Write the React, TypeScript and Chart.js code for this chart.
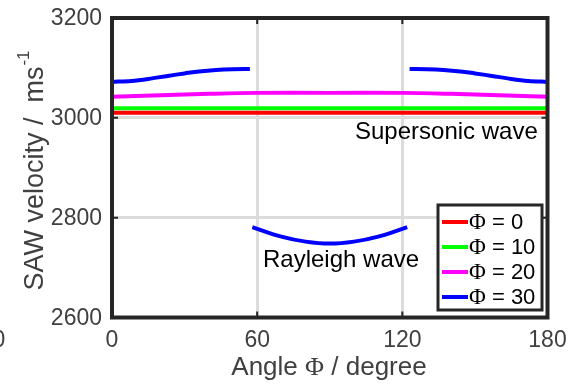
import React, { useEffect, useRef } from "react";
import { Chart, registerables } from "chart.js";

Chart.register(...registerables);

// Axis ticks
const angleTicks = [0, 60, 120, 180];
const velocityTicks = [2600, 2800, 3000, 3200];

// Φ = 0 : flat supersonic branch
const phi0Angle = [0, 45, 90, 135, 180];
const phi0Velocity = [3010, 3010, 3010, 3010, 3010];

// Φ = 10
const phi10Angle = [0, 45, 90, 135, 180];
const phi10Velocity = [3019, 3019, 3019, 3019, 3019];

// Φ = 20
const phi20Angle = [0, 20, 40, 60, 90, 120, 140, 160, 180];
const phi20Velocity = [3042, 3045, 3048, 3050, 3050, 3050, 3048, 3045, 3042];

// Φ = 30 : supersonic branches near 0° and 180°, Rayleigh branch in between
const phi30LeftAngle = [0, 8, 15, 23, 30, 36, 43, 50, 57];
const phi30LeftVelocity = [3072, 3074, 3078, 3084, 3089, 3093, 3096, 3097.5, 3098];
const phi30RayleighAngle = [58, 70, 80, 90, 100, 110, 122];
const phi30RayleighVelocity = [2781, 2762, 2752, 2748, 2752, 2762, 2781];
const phi30RightAngle = [123, 130, 137, 144, 150, 157, 165, 172, 180];
const phi30RightVelocity = [3098, 3097.5, 3096, 3093, 3089, 3084, 3078, 3074, 3072];

const seriesValues = ["0", "10", "20", "30"];
const seriesLabels = seriesValues.map((v) => `Φ = ${v}`);
const seriesColors = ["#ff0000", "#00ff00", "#ff00ff", "#0000ff"];

const SANS = '"Liberation Sans", Arial, Helvetica, sans-serif';
const SERIF = '"Liberation Serif", "Times New Roman", serif';
const AXIS_INK = "#404040";
const FRAME_INK = "#262626";

const toPoints = (xs: number[], ys: number[]) => xs.map((x, i) => ({ x, y: ys[i] }));

const phi30Points = [
  ...toPoints(phi30LeftAngle, phi30LeftVelocity),
  { x: 57.5, y: null },
  ...toPoints(phi30RayleighAngle, phi30RayleighVelocity),
  { x: 122.5, y: null },
  ...toPoints(phi30RightAngle, phi30RightVelocity),
];

type Run = { text: string; font: string };

// draws a sequence of text pieces with differing fonts; returns total width
function drawRuns(ctx: CanvasRenderingContext2D, runs: Run[], x: number, y: number, align: "left" | "center") {
  let total = 0;
  runs.forEach((r) => {
    ctx.font = r.font;
    total += ctx.measureText(r.text).width;
  });
  let cx = align === "center" ? x - total / 2 : x;
  ctx.textAlign = "left";
  runs.forEach((r) => {
    ctx.font = r.font;
    ctx.fillText(r.text, cx, y);
    cx += ctx.measureText(r.text).width;
  });
  return total;
}

const decorations = {
  id: "decorations",
  afterDatasetsDraw(chart: any) {
    const { ctx, chartArea: a, scales } = chart;
    const xs = scales.x;
    const ys = scales.y;
    ctx.save();

    // inward tick marks
    ctx.strokeStyle = FRAME_INK;
    ctx.lineWidth = 2;
    const tickLen = 6;
    angleTicks.slice(1, -1).forEach((v) => {
      const px = xs.getPixelForValue(v);
      ctx.beginPath();
      ctx.moveTo(px, a.top);
      ctx.lineTo(px, a.top + tickLen);
      ctx.moveTo(px, a.bottom);
      ctx.lineTo(px, a.bottom - tickLen);
      ctx.stroke();
    });
    velocityTicks.slice(1, -1).forEach((v) => {
      const py = ys.getPixelForValue(v);
      ctx.beginPath();
      ctx.moveTo(a.left, py);
      ctx.lineTo(a.left + tickLen, py);
      ctx.moveTo(a.right, py);
      ctx.lineTo(a.right - tickLen, py);
      ctx.stroke();
    });

    // box frame
    ctx.lineWidth = 4;
    ctx.strokeRect(a.left, a.top, a.right - a.left, a.bottom - a.top);

    // tick labels
    ctx.fillStyle = AXIS_INK;
    ctx.font = `23px ${SANS}`;
    ctx.textBaseline = "middle";
    ctx.textAlign = "right";
    velocityTicks.forEach((v) => {
      ctx.fillText(String(v), a.left - 10, ys.getPixelForValue(v) + 1);
    });
    ctx.textAlign = "center";
    angleTicks.forEach((v) => {
      ctx.fillText(String(v), xs.getPixelForValue(v), 341);
    });
    ctx.fillText("0", -1, 341);

    // x axis title
    ctx.textBaseline = "alphabetic";
    drawRuns(
      ctx,
      [
        { text: "Angle ", font: `26px ${SANS}` },
        { text: "Φ", font: `26px ${SERIF}` },
        { text: " / degree", font: `26px ${SANS}` },
      ],
      329,
      375,
      "center"
    );

    // y axis title with superscript unit
    const main = "SAW velocity /  ms";
    const sup = "-1";
    ctx.font = `27px ${SANS}`;
    const wMain = ctx.measureText(main).width;
    ctx.font = `17px ${SANS}`;
    const wSup = ctx.measureText(sup).width;
    const total = wMain + wSup;
    ctx.translate(43, 171);
    ctx.rotate(-Math.PI / 2);
    ctx.textAlign = "left";
    ctx.font = `27px ${SANS}`;
    ctx.fillText(main, -total / 2, 0);
    ctx.font = `17px ${SANS}`;
    ctx.fillText(sup, -total / 2 + wMain + 1, -14);
    ctx.setTransform(1, 0, 0, 1, 0, 0);

    // branch annotations
    ctx.fillStyle = "#000000";
    ctx.font = `24px ${SANS}`;
    ctx.textAlign = "left";
    ctx.fillText("Supersonic wave", 355, 139);
    ctx.fillText("Rayleigh wave", 263, 267);

    // legend
    const lx = 438, ly = 205, lw = 104, lh = 105;
    ctx.fillStyle = "#ffffff";
    ctx.fillRect(lx, ly, lw, lh);
    ctx.strokeStyle = FRAME_INK;
    ctx.lineWidth = 3;
    ctx.strokeRect(lx, ly, lw, lh);
    ctx.textBaseline = "middle";
    seriesValues.forEach((v, i) => {
      const ry = 222 + i * 25;
      ctx.strokeStyle = seriesColors[i];
      ctx.lineWidth = 4;
      ctx.beginPath();
      ctx.moveTo(442, ry);
      ctx.lineTo(468, ry);
      ctx.stroke();
      ctx.fillStyle = "#000000";
      drawRuns(
        ctx,
        [
          { text: "Φ", font: `23px ${SERIF}` },
          { text: ` = ${v}`, font: `22px ${SANS}` },
        ],
        469,
        ry + 1,
        "left"
      );
    });

    ctx.restore();
  },
};

export default function App() {
  const canvasRef = useRef<HTMLCanvasElement | null>(null);

  useEffect(() => {
    const canvas = canvasRef.current;
    if (!canvas) return;
    const pointSets = [
      toPoints(phi0Angle, phi0Velocity),
      toPoints(phi10Angle, phi10Velocity),
      toPoints(phi20Angle, phi20Velocity),
      phi30Points,
    ];
    const chart = new Chart(canvas, {
      type: "line",
      data: {
        datasets: pointSets.map((pts, i) => ({
          label: seriesLabels[i],
          data: pts as any,
          borderColor: seriesColors[i],
          backgroundColor: seriesColors[i],
          borderWidth: 4,
          pointRadius: 0,
          tension: 0.35,
          spanGaps: false,
          fill: false,
        })),
      },
      options: {
        animation: false,
        responsive: false,
        devicePixelRatio: 1,
        layout: { padding: { top: 18, right: 22.5, left: 0, bottom: 0 } },
        plugins: {
          legend: { display: false },
          tooltip: { enabled: false },
        },
        scales: {
          x: {
            type: "linear",
            min: 0,
            max: 180,
            afterFit(s: any) {
              s.height = 68.5;
            },
            afterBuildTicks(s: any) {
              s.ticks = angleTicks.map((v) => ({ value: v }));
            },
            ticks: { display: false },
            grid: { color: "#dcdcdc", lineWidth: 3, drawTicks: false },
            border: { display: false },
          },
          y: {
            type: "linear",
            min: 2600,
            max: 3200,
            afterFit(s: any) {
              s.width = 112;
            },
            afterBuildTicks(s: any) {
              s.ticks = velocityTicks.map((v) => ({ value: v }));
            },
            ticks: { display: false },
            grid: { color: "#dcdcdc", lineWidth: 3, drawTicks: false },
            border: { display: false },
          },
        },
      },
      plugins: [decorations],
    });
    return () => chart.destroy();
  }, []);

  return (
    <canvas
      ref={canvasRef}
      width={570}
      height={386}
      style={{ position: "fixed", left: 0, top: 0, width: 570, height: 386, background: "#ffffff" }}
    />
  );
}
